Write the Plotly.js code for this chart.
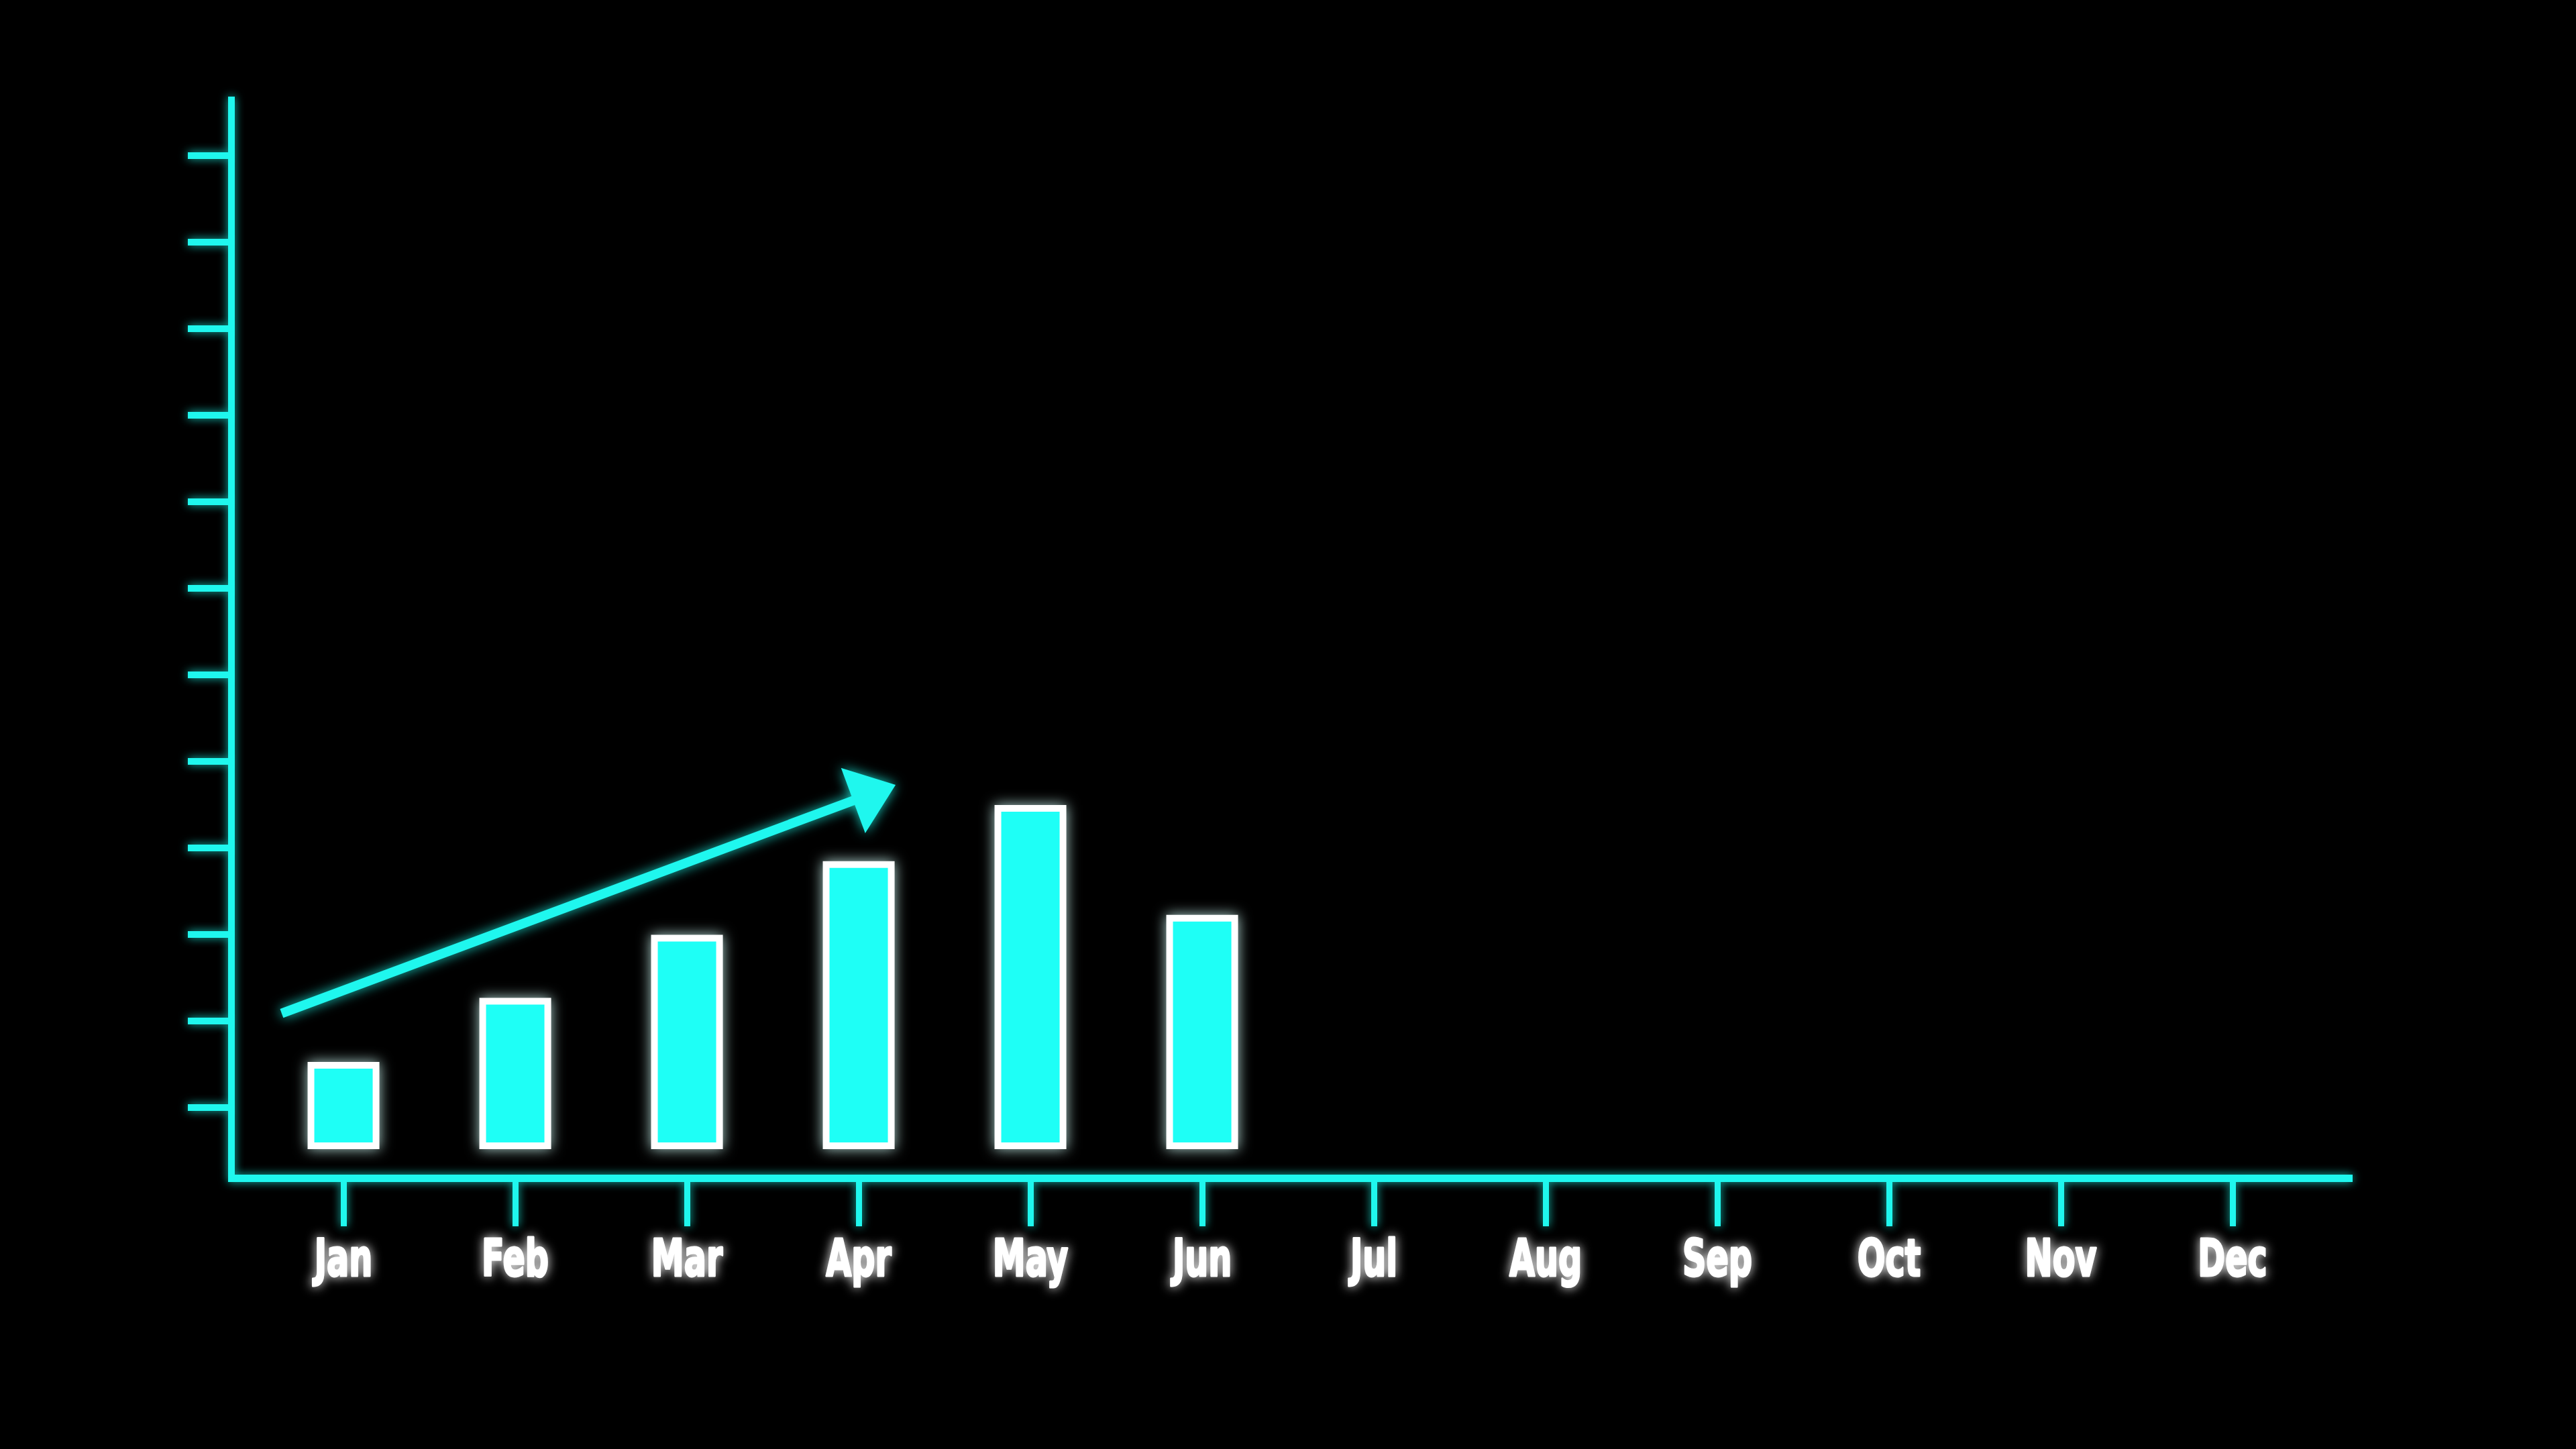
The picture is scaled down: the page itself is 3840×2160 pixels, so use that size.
<!DOCTYPE html>
<html>
<head>
<meta charset="utf-8">
<script src="https://cdn.plot.ly/plotly-3.0.1.min.js"></script>
<style>
html, body { margin: 0; padding: 0; background: #000; }
#chart { width: 3840px; height: 2160px; }
/* neon glow on the svg pieces */
#chart .xlines-above, #chart .ylines-above,
#chart .xaxislayer-above path, #chart .yaxislayer-above path {
    filter: drop-shadow(0 0 7px rgba(30, 255, 240, 0.75));
}
#chart .xaxislayer-above text {
    stroke: #ffffff;
    stroke-width: 3px;
    stroke-linejoin: round;
    filter: drop-shadow(0 0 8px rgba(255, 255, 255, 0.95));
}
#chart .bars .point path {
    filter: drop-shadow(0 0 10px rgba(210, 255, 250, 0.85));
}
#chart .scatterlayer .trace {
    filter: drop-shadow(0 0 9px rgba(30, 255, 240, 0.8));
}
</style>
</head>
<body>
<div id="chart"></div>
<script>
const months = ["Jan", "Feb", "Mar", "Apr", "May", "Jun", "Jul", "Aug", "Sep", "Oct", "Nov", "Dec"];
const monthPos = [0, 1, 2, 3, 4, 5, 6, 7, 8, 9, 10, 11];

// only the first half of the year has bars
const barPos = [0, 1, 2, 3, 4, 5];
const barValues = [9.3, 16.7, 24.0, 32.5, 39.0, 26.3];

// the rising arrow above the bars
const trendX = [-0.36, 1.07, 1.96, 3.05];
const trendY = [15.3, 25.8, 32.5, 40.5];
const trendHead = [0, 0, 0, 90];

const neon = "#1ff7ee";
const barFill = "#1efff6";

// labels are a tall condensed face in the original, squeeze ours to match
const labelSqueeze = 0.71;

const bars = {
    x: barPos,
    y: barValues,
    type: "bar",
    width: 0.379,
    marker: {
        color: barFill,
        line: { color: "#ffffff", width: 10 }
    },
    hoverinfo: "skip"
};

const trend = {
    x: trendX,
    y: trendY,
    type: "scatter",
    mode: "lines+markers",
    line: { color: neon, width: 14 },
    marker: {
        symbol: "triangle-up",
        size: trendHead,
        color: neon,
        opacity: 1,
        angleref: "previous",
        line: { width: 0 }
    },
    hoverinfo: "skip"
};

const layout = {
    width: 3840,
    height: 2160,
    paper_bgcolor: "#000000",
    plot_bgcolor: "#000000",
    showlegend: false,
    margin: { l: 350, r: 333, t: 144, b: 409 },
    xaxis: {
        range: [-0.633, 11.699],
        tickvals: monthPos,
        ticktext: months,
        showgrid: false,
        zeroline: false,
        showline: true,
        linecolor: neon,
        linewidth: 11,
        ticks: "outside",
        ticklen: 66,
        tickwidth: 9,
        tickcolor: neon,
        ticklabelstandoff: -18,
        tickfont: {
            family: "DejaVu Sans Condensed, DejaVu Sans, sans-serif",
            size: 77,
            weight: "bold",
            color: "#ffffff"
        },
        fixedrange: true
    },
    yaxis: {
        range: [-3.33, 121.24],
        tick0: 4.42,
        dtick: 10,
        showticklabels: false,
        showgrid: false,
        zeroline: false,
        showline: true,
        linecolor: neon,
        linewidth: 10,
        ticks: "outside",
        ticklen: 60,
        tickwidth: 10,
        tickcolor: neon,
        fixedrange: true
    }
};

const config = { staticPlot: true, displayModeBar: false };

const squeezeLabels = () => {
    document.querySelectorAll("#chart .xtick text").forEach((t) => {
        const w = t.getComputedTextLength();
        t.setAttribute("lengthAdjust", "spacingAndGlyphs");
        t.setAttribute("textLength", (w * labelSqueeze).toFixed(1));
    });
};

Plotly.newPlot("chart", [bars, trend], layout, config).then(squeezeLabels);
</script>
</body>
</html>
